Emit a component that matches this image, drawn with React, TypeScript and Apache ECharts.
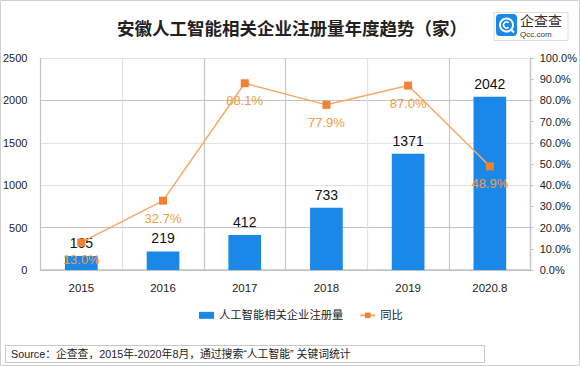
import React, { useEffect, useRef } from "react";
import * as echarts from "echarts";

const categories = ["2015", "2016", "2017", "2018", "2019", "2020.8"];
const registrations = [165, 219, 412, 733, 1371, 2042];
const yoy = [0.13, 0.327, 0.881, 0.779, 0.87, 0.489];
const leftTicks = { min: 0, max: 2500, interval: 500 };
const rightTicks = { min: 0, max: 1, interval: 0.1 };

const FONT = "'Liberation Sans', 'Noto Sans CJK SC', sans-serif";

export default function App() {
  const ref = useRef<HTMLDivElement>(null);
  useEffect(() => {
    if (!ref.current) return;
    const chart = echarts.init(ref.current, null, { renderer: "svg" });
    chart.setOption({
      animation: false,
      backgroundColor: "#ffffff",
      textStyle: { fontFamily: FONT },
      title: {
        text: "安徽人工智能相关企业注册量年度趋势（家）",
        left: 287,
        textAlign: "center",
        top: 15,
        textStyle: { fontSize: 17.5, fontWeight: "bold", color: "#222", fontFamily: FONT },
      },
      legend: {
        bottom: 40,
        left: 194,
        itemWidth: 15,
        itemHeight: 7,
        itemGap: 16,
        textStyle: { fontSize: 11.3, color: "#222", fontFamily: FONT },
        data: [
          { name: "人工智能相关企业注册量", icon: "rect" },
          { name: "同比" },
        ],
      },
      grid: { left: 36, right: 47, top: 58, bottom: 96, containLabel: false },
      xAxis: {
        type: "category",
        data: categories,
        axisLine: { show: true, lineStyle: { color: "#c4c4c4", width: 1.5 } },
        axisTick: { show: false },
        splitLine: {
          show: true,
          lineStyle: { color: ["#c4c4c4", "#e2e2e2", "#c8c8c8", "#c8c8c8", "#e2e2e2", "#c8c8c8"], width: 1.2 },
        },
        axisLabel: { fontSize: 11.5, color: "#222", margin: 12, fontWeight: 500 },
      },
      yAxis: [
        {
          type: "value",
          min: leftTicks.min,
          max: leftTicks.max,
          interval: leftTicks.interval,
          axisLine: { show: false },
          axisTick: { show: false },
          splitLine: {
            show: true,
            lineStyle: { color: ["#c4c4c4", "#c4c4c4", "#e2e2e2", "#e2e2e2", "#c4c4c4", "#e2e2e2"], width: 1.2 },
          },
          axisLabel: {
            fontSize: 11,
            color: "#222",
            margin: 13,
            formatter: (v: number) => String(v),
          },
        },
        {
          type: "value",
          min: rightTicks.min,
          max: rightTicks.max,
          interval: rightTicks.interval,
          position: "right",
          axisLine: { show: true, lineStyle: { color: "#c4c4c4", width: 1.2 } },
          axisTick: { show: true, length: 3, lineStyle: { color: "#c4c4c4" } },
          splitLine: { show: false },
          axisLabel: {
            fontSize: 11,
            color: "#222",
            margin: 9,
            formatter: (v: number) => (v * 100).toFixed(1) + "%",
          },
        },
      ],
      series: [
        {
          name: "人工智能相关企业注册量",
          type: "bar",
          data: registrations,
          barWidth: "40%",
          itemStyle: { color: "#1a88e8" },
          label: {
            show: true,
            position: "top",
            distance: 6,
            fontSize: 14,
            color: "#111",
            fontFamily: FONT,
          },
        },
        {
          name: "同比",
          type: "line",
          yAxisIndex: 1,
          data: yoy,
          symbol: "rect",
          symbolSize: 8,
          lineStyle: { color: "#f5aa66", width: 1.5 },
          itemStyle: { color: "#ef8233" },
          label: {
            show: true,
            position: "bottom",
            distance: 7,
            fontSize: 13,
            color: "#f39a45",
            fontFamily: FONT,
            formatter: (p: any) => (p.value * 100).toFixed(1) + "%",
          },
        },
      ],
      graphic: [
        {
          type: "rect",
          shape: { x: 0.5, y: 0.5, width: 579, height: 365 },
          style: { fill: "none", stroke: "#d0d0d0", lineWidth: 1 },
          silent: true,
        },
        {
          type: "rect",
          shape: { x: 494, y: 12.5, width: 74, height: 28 },
          style: { fill: "#fff", stroke: "#dddddd", lineWidth: 1 },
        },
        {
          type: "rect",
          shape: { x: 496, y: 14, width: 21, height: 22, r: 4 },
          style: { fill: "#1a88e8" },
        },
        {
          type: "ring",
          shape: { cx: 506.5, cy: 25, r: 7.5, r0: 5.5 },
          style: { fill: "#fff" },
        },
        {
          type: "arc",
          shape: { cx: 506.5, cy: 25, r: 3, startAngle: 0.8, endAngle: 5.5 },
          style: { stroke: "#fff", lineWidth: 1.5, fill: "none" },
        },
        {
          type: "line",
          shape: { x1: 511, y1: 29.5, x2: 514, y2: 32.5 },
          style: { stroke: "#fff", lineWidth: 2 },
        },
        {
          type: "text",
          x: 520,
          y: 14,
          style: { text: "企查查", fontSize: 14, fill: "#333", fontFamily: FONT },
        },
        {
          type: "text",
          x: 520,
          y: 30,
          style: { text: "Qcc.com", fontSize: 8, fill: "#333", fontFamily: FONT },
        },
        {
          type: "rect",
          shape: { x: 5.5, y: 345.5, width: 479, height: 17 },
          style: { fill: "#fff", stroke: "#c8c8c8", lineWidth: 1 },
        },
        {
          type: "text",
          x: 11,
          y: 354,
          style: {
            text: "Source：企查查，2015年-2020年8月，通过搜索“人工智能” 关键词统计",
            fontSize: 10.8,
            fill: "#222",
            verticalAlign: "middle",
            fontFamily: FONT,
          },
        },
      ],
    });
    return () => chart.dispose();
  }, []);
  return (
    <div
      ref={ref}
      style={{ position: "absolute", left: 0, top: 0, width: 580, height: 366 }}
    />
  );
}
